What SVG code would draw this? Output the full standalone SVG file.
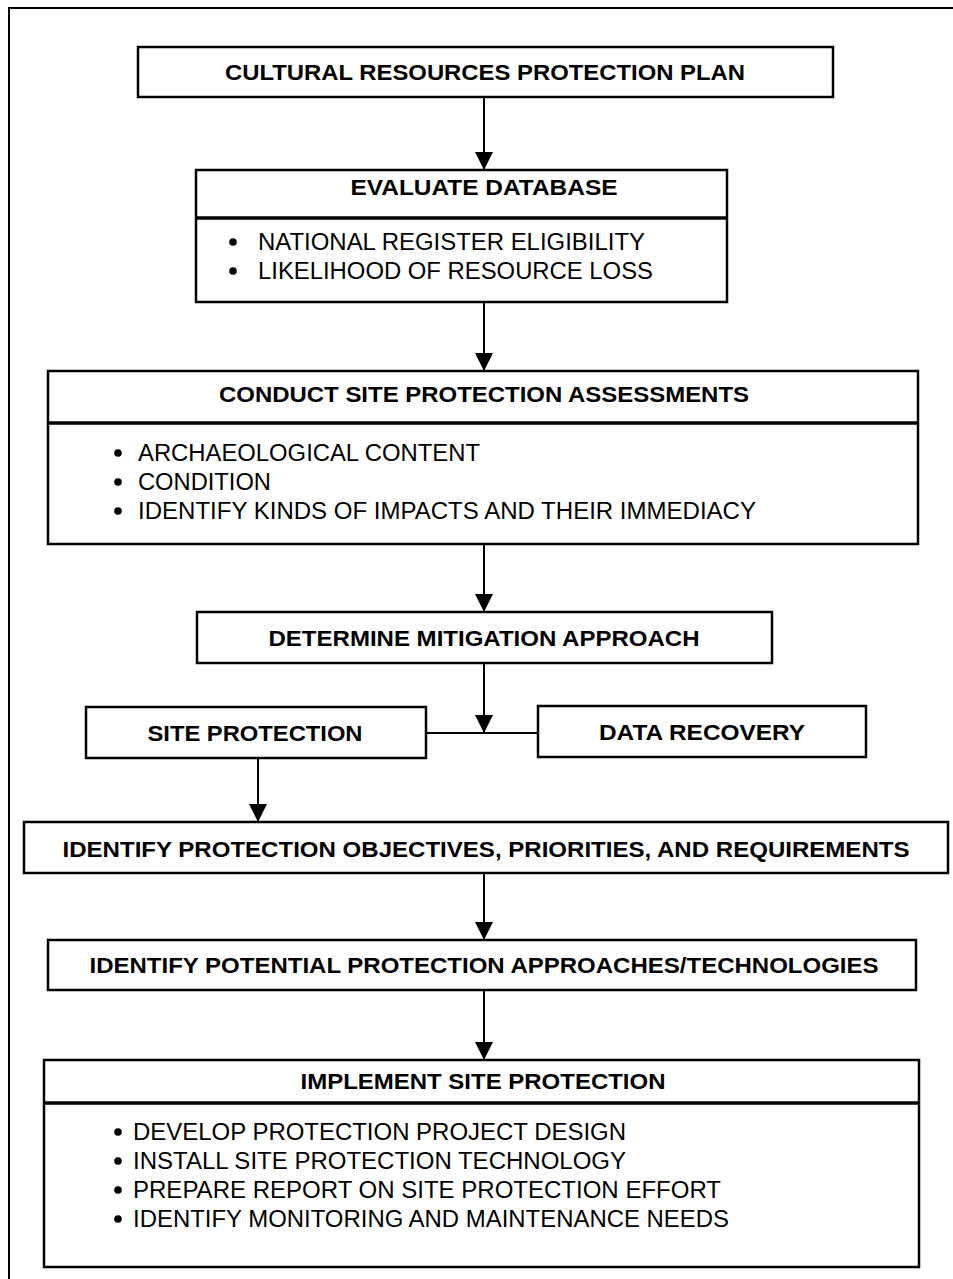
<svg xmlns="http://www.w3.org/2000/svg" width="953" height="1279" viewBox="0 0 953 1279">
<style>
.box{fill:#fff;stroke:#000;stroke-width:2.5}
.div{stroke:#000;stroke-width:3.5}
.h{font-family:"Liberation Sans",Arial,sans-serif;font-weight:bold;font-size:22px;fill:#000}
.t{font-family:"Liberation Sans",Arial,sans-serif;font-size:23px;fill:#000}
.ln{stroke:#000;stroke-width:2;fill:none}
</style>
<defs>
<marker id="arr" viewBox="0 0 18 20" refX="18" refY="10" markerWidth="18" markerHeight="20" markerUnits="userSpaceOnUse" orient="auto">
<path d="M0,1 L18,10 L0,19 Z" fill="#000"/>
</marker>
</defs>
<rect width="953" height="1279" fill="#fff"/>
<path d="M9,1279 L9,8 L953,8" class="ln" stroke-width="2.5"/>
<g id="connectors">
<line x1="484" y1="97" x2="484" y2="170" class="ln" marker-end="url(#arr)"/>
<line x1="484" y1="302" x2="484" y2="371" class="ln" marker-end="url(#arr)"/>
<line x1="484" y1="544" x2="484" y2="612" class="ln" marker-end="url(#arr)"/>
<line x1="484" y1="663" x2="484" y2="733" class="ln" marker-end="url(#arr)"/>
<line x1="426" y1="733" x2="538" y2="733" class="ln"/>
<line x1="258" y1="758" x2="258" y2="822" class="ln" marker-end="url(#arr)"/>
<line x1="484" y1="873" x2="484" y2="940" class="ln" marker-end="url(#arr)"/>
<line x1="484" y1="990" x2="484" y2="1060" class="ln" marker-end="url(#arr)"/>
</g>
<g id="plan">
<rect x="138" y="47" width="695" height="50" class="box"/>
<text x="485" y="80" text-anchor="middle" class="h" textLength="520" lengthAdjust="spacingAndGlyphs">CULTURAL RESOURCES PROTECTION PLAN</text>
</g>
<g id="evaluate">
<rect x="196" y="170" width="531" height="132" class="box"/>
<line x1="196" y1="218" x2="727" y2="218" class="div"/>
<text x="484" y="195" text-anchor="middle" class="h" textLength="267" lengthAdjust="spacingAndGlyphs">EVALUATE DATABASE</text>
<circle cx="233" cy="242" r="3.8"/>
<text x="258" y="250" class="t" textLength="387" lengthAdjust="spacingAndGlyphs">NATIONAL REGISTER ELIGIBILITY</text>
<circle cx="233" cy="271" r="3.8"/>
<text x="258" y="279" class="t" textLength="395" lengthAdjust="spacingAndGlyphs">LIKELIHOOD OF RESOURCE LOSS</text>
</g>
<g id="assess">
<rect x="48" y="371" width="870" height="173" class="box"/>
<line x1="48" y1="423" x2="918" y2="423" class="div"/>
<text x="484" y="402" text-anchor="middle" class="h" textLength="530" lengthAdjust="spacingAndGlyphs">CONDUCT SITE PROTECTION ASSESSMENTS</text>
<circle cx="118" cy="453" r="3.8"/>
<text x="138" y="461" class="t" textLength="342" lengthAdjust="spacingAndGlyphs">ARCHAEOLOGICAL CONTENT</text>
<circle cx="118" cy="482" r="3.8"/>
<text x="138" y="490" class="t" textLength="133" lengthAdjust="spacingAndGlyphs">CONDITION</text>
<circle cx="118" cy="511" r="3.8"/>
<text x="138" y="519" class="t" textLength="618" lengthAdjust="spacingAndGlyphs">IDENTIFY KINDS OF IMPACTS AND THEIR IMMEDIACY</text>
</g>
<g id="mitigation">
<rect x="197" y="612" width="575" height="51" class="box"/>
<text x="484" y="646" text-anchor="middle" class="h" textLength="431" lengthAdjust="spacingAndGlyphs">DETERMINE MITIGATION APPROACH</text>
</g>
<g id="siteprot">
<rect x="86" y="707" width="340" height="51" class="box"/>
<text x="255" y="741" text-anchor="middle" class="h" textLength="215" lengthAdjust="spacingAndGlyphs">SITE PROTECTION</text>
</g>
<g id="datarec">
<rect x="538" y="706" width="328" height="51" class="box"/>
<text x="702" y="740" text-anchor="middle" class="h" textLength="206" lengthAdjust="spacingAndGlyphs">DATA RECOVERY</text>
</g>
<g id="objectives">
<rect x="24" y="822" width="924" height="51" class="box"/>
<text x="486" y="857" text-anchor="middle" class="h" textLength="847" lengthAdjust="spacingAndGlyphs">IDENTIFY PROTECTION OBJECTIVES, PRIORITIES, AND REQUIREMENTS</text>
</g>
<g id="approaches">
<rect x="48" y="940" width="868" height="50" class="box"/>
<text x="484" y="973" text-anchor="middle" class="h" textLength="789" lengthAdjust="spacingAndGlyphs">IDENTIFY POTENTIAL PROTECTION APPROACHES/TECHNOLOGIES</text>
</g>
<g id="implement">
<rect x="44" y="1060" width="875" height="207" class="box"/>
<line x1="44" y1="1103" x2="919" y2="1103" class="div"/>
<text x="483" y="1089" text-anchor="middle" class="h" textLength="365" lengthAdjust="spacingAndGlyphs">IMPLEMENT SITE PROTECTION</text>
<circle cx="118" cy="1132" r="3.8"/>
<text x="133" y="1140" class="t" textLength="493" lengthAdjust="spacingAndGlyphs">DEVELOP PROTECTION PROJECT DESIGN</text>
<circle cx="118" cy="1161" r="3.8"/>
<text x="133" y="1169" class="t" textLength="493" lengthAdjust="spacingAndGlyphs">INSTALL SITE PROTECTION TECHNOLOGY</text>
<circle cx="118" cy="1190" r="3.8"/>
<text x="133" y="1198" class="t" textLength="588" lengthAdjust="spacingAndGlyphs">PREPARE REPORT ON SITE PROTECTION EFFORT</text>
<circle cx="118" cy="1219" r="3.8"/>
<text x="133" y="1227" class="t" textLength="596" lengthAdjust="spacingAndGlyphs">IDENTIFY MONITORING AND MAINTENANCE NEEDS</text>
</g>
</svg>
